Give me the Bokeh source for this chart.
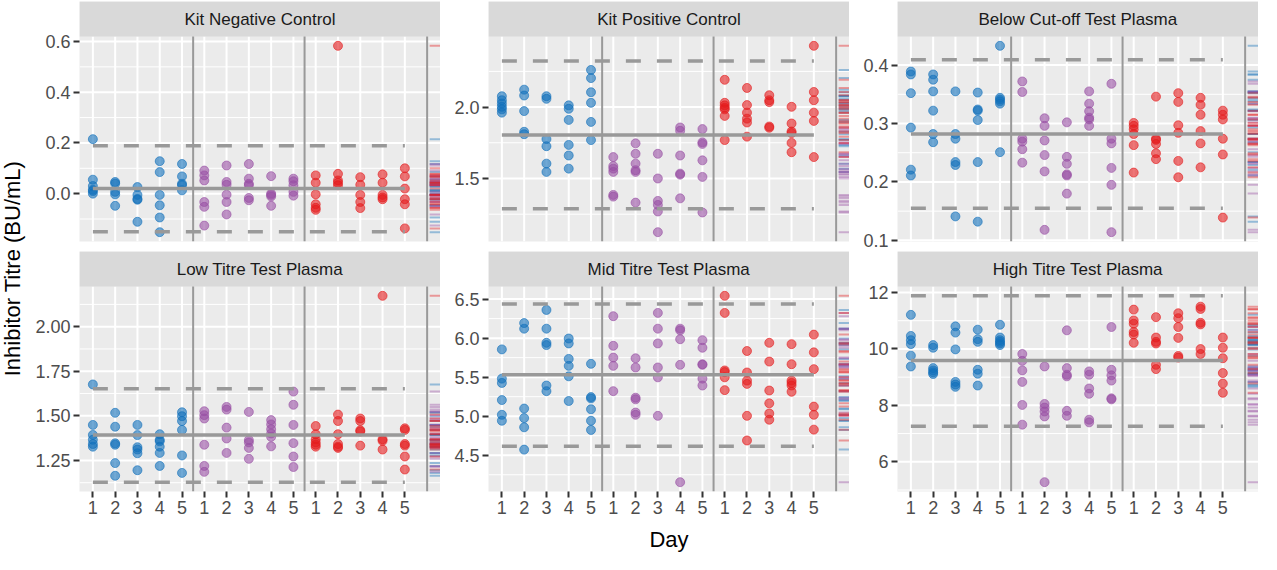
import numpy as np
from bokeh.plotting import figure
from bokeh.layouts import row, column
from bokeh.models import Range1d, FixedTicker, PrintfTickFormatter, ColumnDataSource
from bokeh.core.properties import value
from bokeh.embed import file_html
from bokeh.resources import INLINE

# ---------------- data ----------------
day_labels = ["1", "2", "3", "4", "5"]
group_colors = ["#1170BA", "#984EA3", "#E41A1C"]
panel_titles = ["Kit Negative Control", "Kit Positive Control", "Below Cut-off Test Plasma",
                "Low Titre Test Plasma", "Mid Titre Test Plasma", "High Titre Test Plasma"]
y_title = "Inhibitor Titre (BU/mL)"
x_title = "Day"

# each list: 5 days, replicate values per day
neg_blue = [[0.215, 0.055, 0.03, 0.015, 0.01, 0.0],
            [0.046, 0.040, 0.007, -0.003, -0.048],
            [0.026, -0.005, -0.021, -0.024, -0.111],
            [0.128, 0.085, -0.005, -0.046, -0.094, -0.152],
            [0.117, 0.068, 0.039, 0.033, 0.013]]
neg_purple = [[0.091, 0.072, 0.052, -0.033, -0.052, -0.126],
              [0.111, 0.046, 0.035, -0.004, -0.033, -0.082],
              [0.117, 0.059, 0.039, 0.033, -0.017, -0.026],
              [0.069, 0.0, -0.005, -0.011, -0.048],
              [0.059, 0.049, 0.033, 0.007, -0.008]]
neg_red = [[0.072, 0.043, -0.003, -0.042, -0.056, -0.064],
           [0.583, 0.078, 0.052, 0.043, 0.033],
           [0.065, 0.035, -0.005, -0.033, -0.057],
           [0.076, 0.043, -0.005, -0.015, -0.022],
           [0.100, 0.068, 0.020, -0.022, -0.042, -0.137]]
neg_stats = [0.020, 0.189, -0.150]   # mean, upper limit, lower limit

pos_blue = [[2.076, 2.048, 2.025, 2.002, 1.984, 1.961],
            [2.122, 2.081, 1.972, 1.827, 1.810],
            [2.076, 2.058, 1.776, 1.726, 1.604, 1.546],
            [2.012, 1.988, 1.910, 1.735, 1.661, 1.569],
            [2.260, 2.203, 2.104, 2.030, 1.896, 1.769]]
pos_purple = [[1.650, 1.587, 1.569, 1.546, 1.385, 1.373],
              [1.746, 1.673, 1.604, 1.558, 1.546, 1.331],
              [1.673, 1.500, 1.343, 1.315, 1.269, 1.124],
              [1.857, 1.834, 1.661, 1.534, 1.527, 1.361],
              [1.846, 1.753, 1.742, 1.627, 1.511, 1.262]]
pos_red = [[2.191, 2.030, 2.012, 1.995, 1.984, 1.938, 1.769],
           [2.134, 2.014, 1.961, 1.919, 1.892, 1.793],
           [2.083, 2.048, 2.035, 1.864, 1.855],
           [2.002, 1.885, 1.829, 1.818, 1.749, 1.684],
           [2.429, 2.106, 2.048, 1.961, 1.903, 1.650]]
pos_stats = [1.804, 2.323, 1.288]

bco_blue = [[0.389, 0.384, 0.352, 0.293, 0.221, 0.211],
            [0.384, 0.375, 0.355, 0.322, 0.282, 0.268],
            [0.355, 0.282, 0.274, 0.234, 0.229, 0.141],
            [0.353, 0.324, 0.322, 0.306, 0.234, 0.132],
            [0.433, 0.344, 0.341, 0.338, 0.334, 0.251]]
bco_purple = [[0.372, 0.354, 0.274, 0.269, 0.256, 0.233],
              [0.309, 0.296, 0.271, 0.246, 0.218, 0.118],
              [0.302, 0.243, 0.231, 0.213, 0.211, 0.180],
              [0.355, 0.334, 0.321, 0.310, 0.307, 0.296],
              [0.368, 0.274, 0.266, 0.224, 0.195, 0.114]]
bco_red = [[0.301, 0.296, 0.290, 0.282, 0.263, 0.216],
           [0.346, 0.274, 0.272, 0.265, 0.249, 0.239],
           [0.352, 0.337, 0.297, 0.284, 0.236, 0.208],
           [0.344, 0.332, 0.315, 0.287, 0.266, 0.225],
           [0.322, 0.315, 0.307, 0.274, 0.247, 0.139]]
bco_stats = [0.282, 0.409, 0.155]

low_blue = [[1.676, 1.449, 1.393, 1.366, 1.342, 1.327],
            [1.517, 1.439, 1.346, 1.338, 1.235, 1.164],
            [1.449, 1.392, 1.324, 1.311, 1.290, 1.195],
            [1.397, 1.366, 1.357, 1.327, 1.292, 1.219],
            [1.520, 1.498, 1.471, 1.421, 1.278, 1.180]]
low_purple = [[1.526, 1.504, 1.485, 1.338, 1.219, 1.186],
              [1.550, 1.535, 1.434, 1.373, 1.292],
              [1.522, 1.364, 1.351, 1.320, 1.259],
              [1.476, 1.452, 1.425, 1.401, 1.382, 1.329],
              [1.636, 1.562, 1.449, 1.347, 1.272, 1.213]]
low_red = [[1.443, 1.397, 1.369, 1.351, 1.338, 1.327],
           [1.507, 1.471, 1.397, 1.342, 1.327, 1.320],
           [1.485, 1.471, 1.419, 1.412, 1.333],
           [2.173, 1.369, 1.360, 1.311],
           [1.430, 1.421, 1.342, 1.333, 1.272, 1.199]]
low_stats = [1.393, 1.652, 1.128]

mid_blue = [[5.856, 5.481, 5.426, 5.207, 5.018, 4.942],
            [6.193, 6.121, 5.098, 4.976, 4.858, 4.572],
            [6.361, 6.121, 5.940, 5.911, 5.393, 5.321],
            [5.995, 5.932, 5.734, 5.645, 5.511, 5.195],
            [5.671, 5.245, 5.228, 5.089, 4.942, 4.824]]
mid_purple = [[6.281, 5.902, 5.751, 5.645, 5.321],
              [5.742, 5.624, 5.237, 5.216, 5.047, 5.018],
              [6.323, 6.121, 5.932, 5.624, 5.498, 5.005],
              [6.121, 6.100, 5.986, 5.658, 4.155],
              [5.974, 5.877, 5.666, 5.658, 5.481, 5.393]]
mid_red = [[6.542, 6.323, 5.586, 5.565, 5.498, 5.334],
           [5.835, 5.560, 5.456, 5.414, 5.005, 4.689],
           [5.940, 5.700, 5.329, 5.165, 5.035, 4.955],
           [5.923, 5.666, 5.456, 5.426, 5.393, 5.313],
           [6.045, 5.818, 5.603, 5.123, 5.018, 4.828]]
mid_stats = [5.532, 6.437, 4.614]

high_blue = [[11.208, 10.462, 10.311, 10.171, 9.763, 9.379],
             [10.136, 10.043, 9.320, 9.239, 9.169, 9.111],
             [10.800, 10.579, 9.984, 8.831, 8.738, 8.656],
             [10.683, 10.346, 10.252, 9.262, 9.122, 8.703],
             [10.858, 10.404, 10.311, 10.252, 10.194, 10.136]]
high_purple = [[9.821, 9.577, 9.239, 8.831, 8.015, 7.316],
               [9.379, 8.050, 7.922, 7.782, 7.607, 5.277],
               [10.660, 9.320, 9.087, 9.029, 7.806, 7.631],
               [9.204, 9.087, 8.598, 8.411, 7.491, 7.398],
               [10.777, 9.262, 9.064, 8.878, 8.248, 8.213]]
high_red = [[11.394, 11.010, 10.893, 10.602, 10.509, 10.217],
            [11.126, 10.404, 10.252, 10.194, 9.437, 9.285],
            [11.266, 11.091, 10.777, 10.392, 9.751, 9.693],
            [11.499, 11.417, 10.928, 10.870, 9.996, 9.821],
            [10.404, 10.043, 9.670, 9.146, 8.773, 8.446]]
high_stats = [9.588, 11.883, 7.258]

neg_ticks = [0.0, 0.2, 0.4, 0.6]
pos_ticks = [1.5, 2.0]
bco_ticks = [0.1, 0.2, 0.3, 0.4]
low_ticks = [1.25, 1.50, 1.75, 2.00]
mid_ticks = [4.5, 5.0, 5.5, 6.0, 6.5]
high_ticks = [6, 8, 10, 12]
tick_formats = ["%.1f", "%.1f", "%.1f", "%.2f", "%.1f", "%d"]

panel_groups = [(neg_blue, neg_purple, neg_red), (pos_blue, pos_purple, pos_red),
                (bco_blue, bco_purple, bco_red), (low_blue, low_purple, low_red),
                (mid_blue, mid_purple, mid_red), (high_blue, high_purple, high_red)]
panel_stats = [neg_stats, pos_stats, bco_stats, low_stats, mid_stats, high_stats]
panel_ticks = [neg_ticks, pos_ticks, bco_ticks, low_ticks, mid_ticks, high_ticks]

# ---------------- layout constants ----------------
FONT = "Liberation Sans"
FW = 361          # panel frame width
FH = 205          # panel height (data area)
SH = 35           # strip height
TOP = 1
GAP = 10
BOTTOM = 63
YLAB_W = 30
LEFTS = [49, 48, 48]
TOTAL_H = TOP + SH + FH + GAP + SH + FH + BOTTOM

n_days = len(day_labels)
n_groups = len(group_colors)
n_pos = n_days * n_groups
x_lo, x_hi = 1 - 0.6, (n_pos + 1) + 0.6
rug_len = 0.03 * (x_hi - x_lo)
LINE_GREY = "#999999"


def style_axis(ax):
    ax.major_label_text_font = FONT
    ax.major_label_text_font_size = "18px"
    ax.major_label_text_color = "#4D4D4D"
    ax.major_tick_line_color = "#333333"
    ax.major_tick_line_width = 2
    ax.major_tick_out = 6
    ax.major_tick_in = 0
    ax.minor_tick_line_color = None
    ax.axis_line_color = None
    ax.major_label_standoff = 3


def make_panel(i, col, row_i):
    groups = panel_groups[i]
    mean, upper, lower = panel_stats[i]
    ticks = panel_ticks[i]
    left = LEFTS[col]
    top = TOP if row_i == 0 else 0
    bottom = GAP if row_i == 0 else BOTTOM

    xs, ys, cs = [], [], []
    for gi, g in enumerate(groups):
        for di, vals in enumerate(g):
            for v in vals:
                xs.append(gi * n_days + di + 1)
                ys.append(v)
                cs.append(group_colors[gi])
    lo = min(ys + [upper, lower])
    hi = max(ys + [upper, lower])
    pad = 0.05 * (hi - lo)
    y0, y1 = lo - pad, hi + pad
    y_strip = y1 + (y1 - y0) * SH / FH   # top of the strip band

    p = figure(width=left + FW, height=top + SH + FH + bottom,
               x_range=Range1d(x_lo, x_hi), y_range=Range1d(y0, y_strip),
               x_axis_location=("below" if row_i == 1 else None), y_axis_location="left",
               toolbar_location=None, output_backend="svg",
               min_border_left=left, min_border_right=0, min_border_top=top,
               min_border_bottom=bottom,
               background_fill_color="#EBEBEB", border_fill_color="white",
               outline_line_color=None)
    for gr in p.grid:
        gr.visible = False

    step = ticks[1] - ticks[0]
    minors = [t - step / 2 for t in ticks] + [ticks[-1] + step / 2]
    minors = [m for m in minors if y0 < m < y1]
    xpos = list(range(1, n_pos + 1))

    # grid lines (panel area only)
    p.segment(x0=[x_lo] * len(minors), x1=[x_hi] * len(minors), y0=minors, y1=minors,
              line_color="white", line_width=1)
    p.segment(x0=[x_lo] * len(ticks), x1=[x_hi] * len(ticks), y0=ticks, y1=ticks,
              line_color="white", line_width=2)
    p.segment(x0=xpos, x1=xpos, y0=[y0] * n_pos, y1=[y1] * n_pos,
              line_color="white", line_width=2)

    # strip band + title
    p.quad(left=[x_lo], right=[x_hi], bottom=[y1], top=[y_strip],
           fill_color="#D9D9D9", line_color=None)
    p.text(x=[(x_lo + x_hi) / 2], y=[(y1 + y_strip) / 2], text=[panel_titles[i]],
           text_align="center", text_baseline="middle", text_font=value(FONT),
           text_font_size="17px", text_color="#1A1A1A")

    # separators
    seps = [n_days * k + 0.5 for k in range(1, n_groups)] + [n_pos + 1]
    p.segment(x0=seps, x1=seps, y0=[y0] * len(seps), y1=[y1] * len(seps),
              line_color=LINE_GREY, line_width=2)

    src = ColumnDataSource(dict(x=xs, y=ys, c=cs))
    p.scatter("x", "y", source=src, size=9, fill_color="c", fill_alpha=0.6,
              line_color="c", line_alpha=0.6, line_width=1)

    rug = ColumnDataSource(dict(x0=[x_hi - rug_len] * len(ys), x1=[x_hi] * len(ys), y=ys, c=cs))
    p.segment(x0="x0", x1="x1", y0="y", y1="y", source=rug, line_color="c",
              line_alpha=0.4, line_width=2)

    p.segment(x0=[1], x1=[n_pos], y0=[mean], y1=[mean], line_color=LINE_GREY,
              line_width=3.5)
    p.segment(x0=[1, 1], x1=[n_pos, n_pos], y0=[upper, lower], y1=[upper, lower],
              line_color=LINE_GREY, line_width=3.5, line_dash="15 16")

    p.yaxis.ticker = FixedTicker(ticks=ticks, minor_ticks=[])
    p.yaxis.formatter = PrintfTickFormatter(format=tick_formats[i])
    style_axis(p.yaxis[0])
    if row_i == 1:
        p.xaxis.ticker = FixedTicker(ticks=xpos, minor_ticks=[])
        p.xaxis.major_label_overrides = {k: day_labels[(k - 1) % n_days] for k in xpos}
        style_axis(p.xaxis[0])
        if col == 1:
            p.xaxis.axis_label = x_title
            p.xaxis.axis_label_text_font = FONT
            p.xaxis.axis_label_text_font_size = "22px"
            p.xaxis.axis_label_text_font_style = "normal"
            p.xaxis.axis_label_text_color = "black"
            p.xaxis.axis_label_standoff = 10
    return p


panels1 = [make_panel(c, c, 0) for c in range(3)]
panels2 = [make_panel(3 + c, c, 1) for c in range(3)]
grid = column(row(*panels1), row(*panels2))

yl = figure(width=YLAB_W, height=TOTAL_H, x_range=Range1d(0, YLAB_W), y_range=Range1d(0, TOTAL_H),
            x_axis_location=None, y_axis_location=None, toolbar_location=None,
            output_backend="svg", min_border=0, min_border_left=0, min_border_right=0,
            min_border_top=0, min_border_bottom=0, outline_line_color=None,
            background_fill_color="white", border_fill_color="white")
for gr in yl.grid:
    gr.visible = False
center = 268
yl.text(x=[12], y=[TOTAL_H - center], text=[y_title], angle=np.pi / 2,
        text_align="center", text_baseline="middle", text_font=value(FONT),
        text_font_size="22px", text_color="black")

layout = row(yl, grid)
open("out.html", "w").write(file_html(layout, INLINE))
